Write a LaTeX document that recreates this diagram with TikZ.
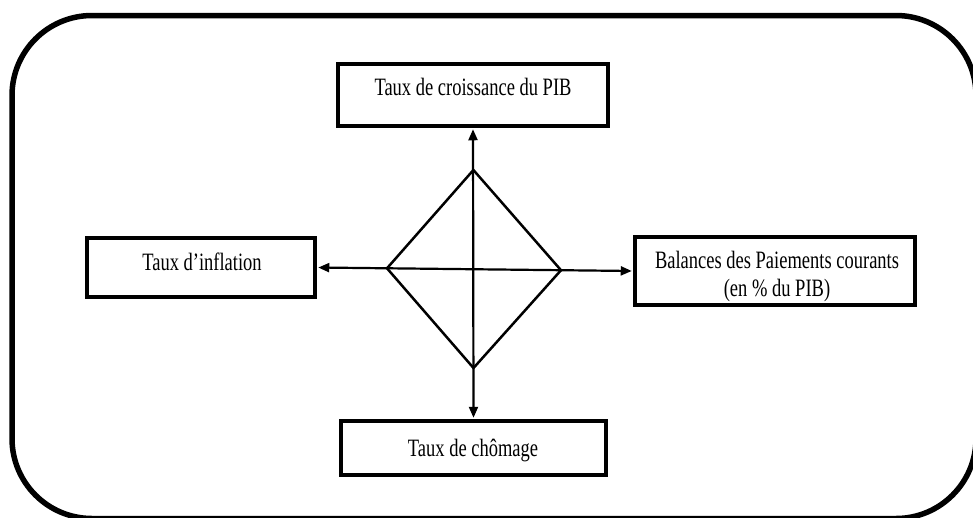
\documentclass[tikz,border=0pt]{standalone}
\usepackage{fontspec}
\setmainfont{Liberation Serif}
\usetikzlibrary{arrows.meta}
\newcommand{\stretchtxt}[1]{\scalebox{1}[1.35]{#1}}
\begin{document}
\begin{tikzpicture}[x=1pt,y=-1pt,
  frame/.style={line width=5.5pt, rounded corners=80pt},
  box/.style={draw, line width=3.5pt, rectangle, inner sep=0pt},
  lbl/.style={inner sep=0pt, font=\fontsize{18.5}{20.7}\selectfont},
  conn/.style={line width=2.2pt, shorten <=1.5pt, shorten >=1.5pt,
    {Triangle[length=11pt,width=9pt]}-{Triangle[length=11pt,width=9pt]}},
  dia/.style={line width=2.5pt, line join=miter}]
\useasboundingbox (0,0) rectangle (973,517);
\begin{scope}
  \clip (0,0) rectangle (973,517);
  \draw[frame] (12,15.5) rectangle (976,518.5);
\end{scope}
% boxes
\node[box, minimum width=270pt, minimum height=62pt] (top) at (473,95) {};
\node[box, minimum width=228pt, minimum height=59pt] (left) at (201,267.5) {};
\node[box, minimum width=280pt, minimum height=68pt] (right) at (775,271) {};
\node[box, minimum width=265pt, minimum height=54pt] (bottom) at (473.5,448) {};
% labels
\node[lbl] (toptxt) at (473,86.5) {\stretchtxt{Taux de croissance du PIB}};
\node[lbl] (lefttxt) at (202,261.5) {\stretchtxt{Taux d’inflation}};
\node[lbl] (bottomtxt) at (473,450) {\stretchtxt{Taux de chômage}};
\node[lbl] (righttxt) at (777,276.5) {\stretchtxt{\begin{tabular}{@{}c@{}}Balances des Paiements courants\\(en \% du PIB)\end{tabular}}};
% diamond
\coordinate (dT) at (473.4,170);
\coordinate (dL) at (387,268.3);
\coordinate (dR) at (561,270.2);
\coordinate (dB) at (473.5,368);
\draw[dia] (dT) -- (dR) -- (dB) -- (dL) -- cycle;
% connectors
\draw[conn] (top.south) -- (bottom.north);
\draw[conn] (left.east) -- (right.west);
\end{tikzpicture}
\end{document}
